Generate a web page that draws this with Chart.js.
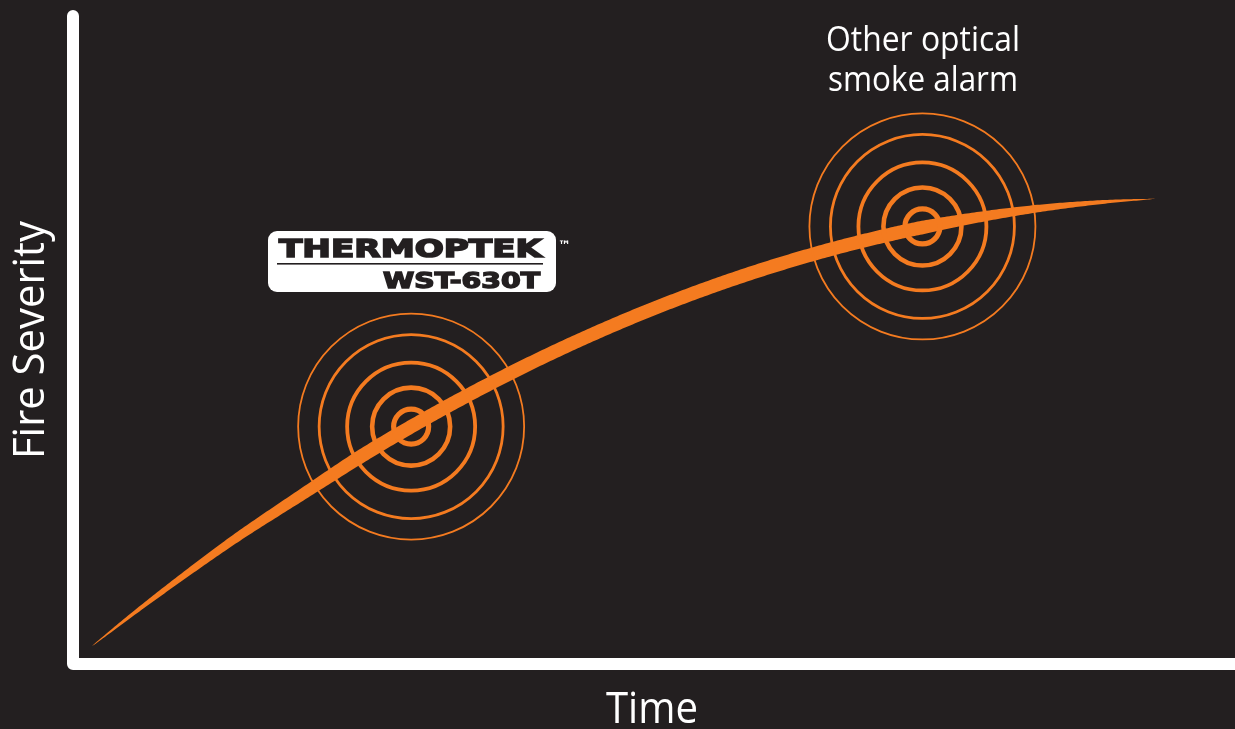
<!DOCTYPE html>
<html>
<head>
<meta charset="utf-8">
<script src="https://cdn.jsdelivr.net/npm/chart.js@4/dist/chart.umd.min.js"></script>
<style>
  html, body { margin: 0; padding: 0; background: #231f20; }
  #wrap { width: 1235px; height: 729px; }
</style>
</head>
<body>
<div id="wrap"><canvas id="c" width="1235" height="729"></canvas></div>
<script>
// ---- data ----
const timeValues     = [1.64, 5.77, 10.07, 14.37, 19.54, 24.70, 29.09, 34.17, 39.33, 44.49, 49.66, 54.82, 59.98, 65.15, 69.45, 73.15, 78.06, 83.22, 88.38, 93.12];
const severityValues = [2.75, 8.49, 14.20, 19.66, 25.70, 31.65, 36.28, 41.27, 45.96, 50.24, 54.13, 57.61, 60.69, 63.38, 65.31, 66.76, 68.36, 69.68, 70.61, 71.13];
const alarmTimes     = [29.1, 73.1];
const alarmSeverity  = [36.3, 66.9];
const alarmLabels    = ['THERMOPTEK', 'Other optical smoke alarm'];
const logoSubLabel   = 'WST-630T';
const xAxisTitle     = 'Time';
const yAxisTitle     = 'Fire Severity';

// ---- styles ----
const ORANGE = '#f47b20';
const ringStyles = [
  { r: 113, w: 1.8 },
  { r: 92,  w: 2.8 },
  { r: 64,  w: 3.8 },
  { r: 39,  w: 4.6 },
  { r: 17.5, w: 5.2 }
];

const curvePoints = timeValues.map((t, i) => ({ x: t, y: severityValues[i] }));
const alarmPoints = alarmTimes.map((t, i) => ({ x: t, y: alarmSeverity[i] }));

const datasets = [{
  type: 'line',
  label: 'Fire growth',
  data: curvePoints,
  showLine: false,
  pointRadius: 0,
  borderWidth: 0
}];
ringStyles.forEach((s, i) => {
  datasets.push({
    type: 'scatter',
    label: 'ring' + i,
    data: alarmPoints,
    pointRadius: s.r,
    pointHoverRadius: s.r,
    pointBorderWidth: s.w,
    pointBackgroundColor: 'rgba(0,0,0,0)',
    pointBorderColor: ORANGE,
    clip: false
  });
});

function catmull(p0, p1, p2, p3, t) {
  const t2 = t * t, t3 = t2 * t;
  const f = (a, b, c, d) => 0.5 * ((2 * b) + (-a + c) * t + (2 * a - 5 * b + 4 * c - d) * t2 + (-a + 3 * b - 3 * c + d) * t3);
  return { x: f(p0.x, p1.x, p2.x, p3.x), y: f(p0.y, p1.y, p2.y, p3.y) };
}

const ribbonPlugin = {
  id: 'ribbon',
  beforeDatasetsDraw(chart) {
    const ctx = chart.ctx;
    const ca = chart.chartArea;
    // axes
    ctx.save();
    ctx.strokeStyle = '#ffffff';
    ctx.lineWidth = 12;
    ctx.lineCap = 'round';
    ctx.lineJoin = 'round';
    ctx.beginPath();
    ctx.moveTo(ca.left, ca.top + 6);
    ctx.lineTo(ca.left, ca.bottom);
    ctx.lineTo(ca.right + 20, ca.bottom);
    ctx.stroke();
    ctx.restore();

    // tapered curve from the library's point positions
    const pts = chart.getDatasetMeta(0).data.map(p => ({ x: p.x, y: p.y }));
    const samples = [];
    for (let i = 0; i < pts.length - 1; i++) {
      const p0 = pts[Math.max(0, i - 1)], p1 = pts[i], p2 = pts[i + 1], p3 = pts[Math.min(pts.length - 1, i + 2)];
      for (let k = 0; k < 24; k++) samples.push(catmull(p0, p1, p2, p3, k / 24));
    }
    samples.push(pts[pts.length - 1]);
    const x0 = samples[0].x, x1 = samples[samples.length - 1].x;
    const left = [], right = [];
    for (let i = 0; i < samples.length; i++) {
      const a = samples[Math.max(0, i - 1)], b = samples[Math.min(samples.length - 1, i + 1)];
      let dx = b.x - a.x, dy = b.y - a.y;
      const len = Math.hypot(dx, dy) || 1;
      dx /= len; dy /= len;
      const s = (samples[i].x - x0) / (x1 - x0);
      const rise = Math.pow(Math.min(1, s / 0.25), 0.7);
      const fall = Math.pow(Math.min(1, Math.max(0, 1 - s) / 0.22), 0.85);
      const w = 13.5 * rise * fall / 2;
      left.push({ x: samples[i].x - dy * w, y: samples[i].y + dx * w });
      right.push({ x: samples[i].x + dy * w, y: samples[i].y - dx * w });
    }
    ctx.save();
    ctx.fillStyle = ORANGE;
    ctx.beginPath();
    ctx.moveTo(left[0].x, left[0].y);
    left.forEach(p => ctx.lineTo(p.x, p.y));
    for (let i = right.length - 1; i >= 0; i--) ctx.lineTo(right[i].x, right[i].y);
    ctx.closePath();
    ctx.fill();
    ctx.restore();
  },
  afterDraw(chart) {
    const ctx = chart.ctx;
    ctx.save();
    // axis titles
    ctx.fillStyle = '#ffffff';
    ctx.textAlign = 'center';
    ctx.textBaseline = 'alphabetic';
    ctx.font = '44px "Open Sans"';
    ctx.fillText(xAxisTitle, 652, 723, 92);
    ctx.save();
    ctx.translate(44, 340);
    ctx.rotate(-Math.PI / 2);
    ctx.fillText(yAxisTitle, 0, 0, 238);
    ctx.restore();

    // other alarm label
    const words = alarmLabels[1].split(' ');
    ctx.font = '35px "Open Sans"';
    ctx.fillText(words.slice(0, 2).join(' '), 923, 51, 194);
    ctx.fillText(words.slice(2).join(' '), 923, 91, 190);

    // logo box
    const bx = 268, by = 231, bw = 288, bh = 61, r = 9;
    ctx.fillStyle = '#ffffff';
    ctx.beginPath();
    ctx.moveTo(bx + r, by);
    ctx.arcTo(bx + bw, by, bx + bw, by + bh, r);
    ctx.arcTo(bx + bw, by + bh, bx, by + bh, r);
    ctx.arcTo(bx, by + bh, bx, by, r);
    ctx.arcTo(bx, by, bx + bw, by, r);
    ctx.closePath();
    ctx.fill();

    ctx.fillStyle = '#231f20';
    ctx.strokeStyle = '#231f20';
    ctx.lineJoin = 'miter';
    ctx.textAlign = 'left';
    ctx.font = 'bold 25px "DejaVu Sans"';
    let m = ctx.measureText(alarmLabels[0]).width;
    ctx.save();
    ctx.translate(279, 257);
    ctx.scale(263 / m, 1);
    ctx.lineWidth = 1.6;
    ctx.fillText(alarmLabels[0], 0, 0);
    ctx.strokeText(alarmLabels[0], 0, 0);
    ctx.restore();

    ctx.fillRect(277, 263, 266, 1.6);

    ctx.font = 'bold 21px "DejaVu Sans"';
    m = ctx.measureText(logoSubLabel).width;
    ctx.save();
    ctx.translate(383, 288);
    ctx.scale(157 / m, 1);
    ctx.lineWidth = 1.4;
    ctx.fillText(logoSubLabel, 0, 0);
    ctx.strokeText(logoSubLabel, 0, 0);
    ctx.restore();

    ctx.fillStyle = '#ffffff';
    ctx.font = 'bold 13px "DejaVu Sans"';
    ctx.fillText('™', 558, 250);
    ctx.restore();
  }
};

new Chart(document.getElementById('c'), {
  data: { datasets },
  options: {
    responsive: false,
    animation: false,
    events: [],
    layout: { autoPadding: false, padding: { left: 73, right: 0, top: 10, bottom: 65 } },
    scales: {
      x: { type: 'linear', min: 0, max: 100, display: false },
      y: { type: 'linear', min: 0, max: 100, display: false }
    },
    plugins: { legend: { display: false }, tooltip: { enabled: false }, title: { display: false } }
  },
  plugins: [ribbonPlugin]
});
</script>
</body>
</html>
